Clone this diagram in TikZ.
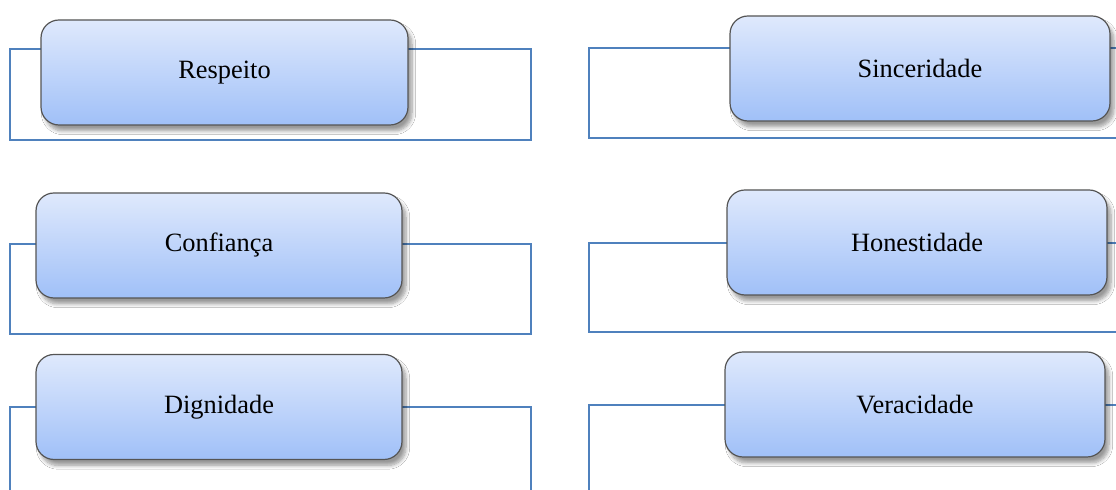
\documentclass[tikz,border=0pt]{standalone}
\usepackage{fontspec}
\setmainfont{Liberation Serif}
\usetikzlibrary{shadows,shadows.blur}
\definecolor{frameblue}{RGB}{79,129,189}
\definecolor{boxtop}{RGB}{223,233,252}
\definecolor{boxbot}{RGB}{160,192,248}
\definecolor{boxline}{RGB}{85,85,85}
\tikzset{
	valor/.style = {draw = boxline,
					line width = 0.6pt,
					rounded corners = 9pt,
					top color = boxtop,
					bottom color = boxbot,
					text = black,
					font = \fontsize{13.2}{15}\selectfont,
					minimum height = 52.5pt,
					blur shadow = {shadow xshift = 2pt,
								   shadow yshift = -3pt,
								   shadow blur steps = 8,
								   shadow opacity = 40}},
	quadro/.style = {draw = frameblue,
					 line width = 1.3pt}
}

\begin{document}
\begin{tikzpicture}[x = 0.5pt, y = -0.5pt]

	\fill[white] (0,0) rectangle (1116,490);
	\useasboundingbox (0,0) rectangle (1116,490);

	\draw[quadro] (10,49) rectangle (531,140);
	\draw[quadro] (10,244) rectangle (531,334);
	\draw[quadro] (10,407) rectangle (531,520);

	\draw[quadro] (589,48) rectangle (1140,138);
	\draw[quadro] (589,243) rectangle (1140,332);
	\draw[quadro] (589,405) rectangle (1140,520);

	\draw (224.5,72.5) node[valor,
						 minimum width = 183.5pt](resp){Respeito};
	\draw (219,245.5) node[valor,
						 minimum width = 183pt](conf){Confiança};
	\draw (219,407) node[valor,
						 minimum width = 183pt](dign){Dignidade};

	\draw (920,68.5) node[valor,
					   minimum width = 190pt](sinc){Sinceridade};
	\draw (917,242.5) node[valor,
					   minimum width = 190pt](hone){Honestidade};
	\draw (915,404.5) node[valor,
					   minimum width = 190pt](vera){Veracidade};

\end{tikzpicture}
\end{document}
